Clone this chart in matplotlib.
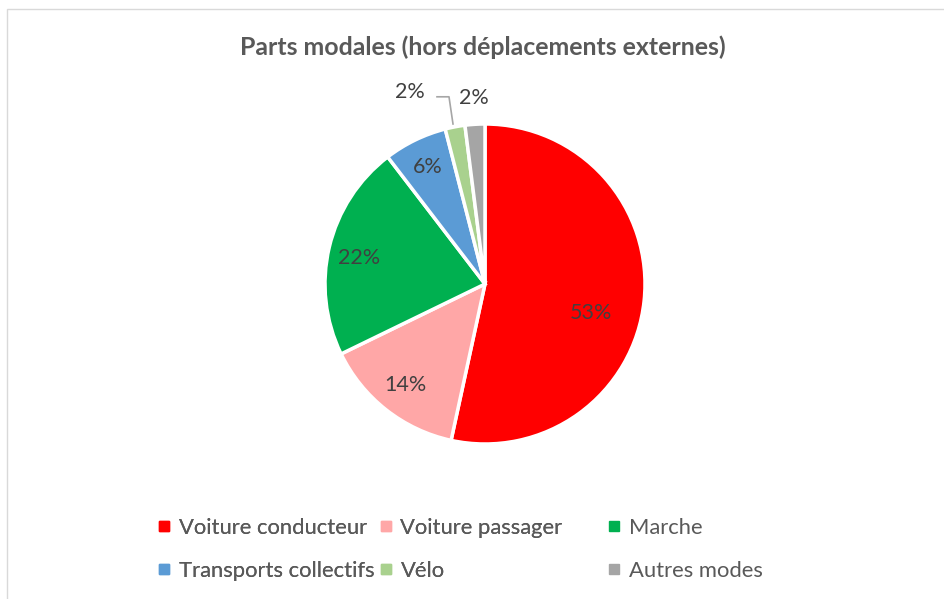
import matplotlib.pyplot as plt
from matplotlib.patches import Rectangle
from matplotlib.lines import Line2D

modes = ['Voiture conducteur', 'Voiture passager', 'Marche',
         'Transports collectifs', 'Vélo', 'Autres modes']
parts = [53.4, 14.4, 21.8, 6.4, 2.0, 2.0]
colors = ['#FF0000', '#FFA7A7', '#00B050', '#5B9BD5', '#A9D18E', '#A5A5A5']

# label positions (data units, pie radius = 1)
label_pos = [(0.66, -0.18), (-0.50, -0.63), (-0.79, 0.16),
             (-0.36, 0.73), (-0.47, 1.20), (-0.07, 1.16)]

plt.rcParams['font.family'] = ['Lato', 'DejaVu Sans']

fig = plt.figure(figsize=(9.44, 5.99), dpi=100)
fig.patches.append(Rectangle((7/944, -0.1), 1.0, (599-9)/599 + 0.1,
                             transform=fig.transFigure, fill=False,
                             edgecolor='#D9D9D9', linewidth=1))

ax = fig.add_axes([285/944, (599-484)/599, 400/944, 400/599])
wedges, _ = ax.pie(parts, colors=colors, startangle=90, counterclock=False,
                   radius=1, wedgeprops=dict(edgecolor='white', linewidth=2.5))
ax.set_xlim(-1.25, 1.25)
ax.set_ylim(-1.25, 1.25)
ax.set_aspect('equal')
ax.axis('off')

for v, (x, y) in zip(parts, label_pos):
    ax.text(x, y, '%d%%' % round(v), ha='center', va='center',
            fontsize=15.5, color='#404040')

# leader line for Vélo
ax.plot([-0.30, -0.225, -0.20], [1.17, 1.17, 1.00], color='#A6A6A6', lw=1.2)

fig.text(483/944, 1 - 47/599, 'Parts modales (hors déplacements externes)',
         ha='center', va='center', fontsize=17.9, fontweight='bold', color='#595959')

def handle(c):
    return Line2D([], [], marker='s', ls='none', markersize=6.5,
                  markerfacecolor=c, markeredgecolor=c)

order_a = [0, 3, 1, 4]
leg_a = fig.legend([handle(colors[i]) for i in order_a], [modes[i] for i in order_a],
                   ncol=2, loc='upper left', bbox_to_anchor=(150/944, 1 - 509/599),
                   frameon=False, fontsize=15.8, handlelength=0.5, handletextpad=0.4,
                   columnspacing=0.3, labelspacing=1.05, labelcolor='#595959',
                   borderaxespad=0)
order_b = [2, 5]
leg_b = fig.legend([handle(colors[i]) for i in order_b], [modes[i] for i in order_b],
                   ncol=1, loc='upper left', bbox_to_anchor=(600/944, 1 - 509/599),
                   frameon=False, fontsize=15.8, handlelength=0.5, handletextpad=0.4,
                   labelspacing=1.05, labelcolor='#595959', borderaxespad=0)
fig.add_artist(leg_a)

fig.savefig('out.png', dpi=100)
